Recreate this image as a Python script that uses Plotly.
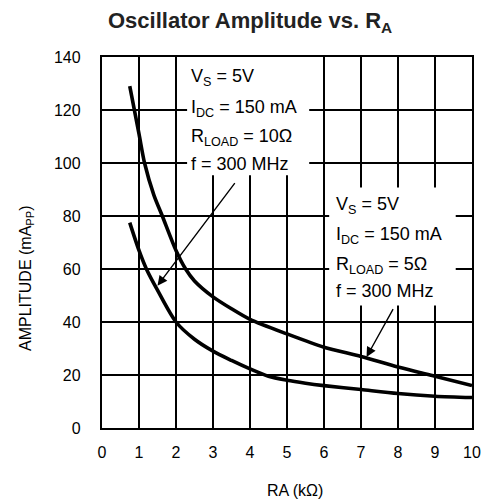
import plotly.graph_objects as go

# ---- data ----
ra_10ohm = [0.75, 1.0, 1.15, 1.4, 1.63, 2.0, 2.26, 2.5, 3.0, 3.5, 4.0, 5.0, 6.0, 7.0, 8.0, 9.0, 10.0]
amp_10ohm = [129, 111, 100, 88, 80, 67, 60, 55.5, 49.5, 45, 41, 35.5, 30.5, 27, 23, 19.5, 16]

ra_5ohm = [0.75, 1.0, 1.2, 1.5, 2.0, 2.5, 3.0, 3.5, 4.0, 4.5, 5.0, 5.5, 6.0, 7.0, 8.0, 9.0, 10.0]
amp_5ohm = [77.5, 67, 60, 52, 40, 33.5, 29, 25.5, 22.3, 19.5, 18, 16.9, 16, 14.5, 13, 12, 11.5]

x_ticks = list(range(0, 11))
y_ticks = list(range(0, 141, 20))

label_10ohm = ["V<sub>S</sub> = 5V", "I<sub>DC</sub> = 150 mA", "R<sub>LOAD</sub> = 10Ω", "f = 300 MHz"]
label_5ohm = ["V<sub>S</sub> = 5V", "I<sub>DC</sub> = 150 mA", "R<sub>LOAD</sub> = 5Ω", "f = 300 MHz"]

FONT = "Liberation Sans, Arial, Helvetica, sans-serif"

L, T, PW, PH = 102, 57, 370, 371


def px(xp):
    return (xp - L) / PW


def py(yp):
    return (T + PH - yp) / PH


fig = go.Figure()
fig.add_trace(go.Scatter(x=ra_10ohm, y=amp_10ohm, mode="lines",
                         line=dict(color="black", width=3.6, shape="spline", smoothing=0.8),
                         showlegend=False, hoverinfo="skip"))
fig.add_trace(go.Scatter(x=ra_5ohm, y=amp_5ohm, mode="lines",
                         line=dict(color="black", width=3.6, shape="spline", smoothing=0.8),
                         showlegend=False, hoverinfo="skip"))

# white boxes behind the condition labels (hide gridlines)
fig.add_shape(type="rect", xref="x", yref="y", x0=2.30, x1=5.6, y0=95.4, y1=140,
              fillcolor="white", line=dict(width=0), layer="between")
fig.add_shape(type="rect", xref="x", yref="y", x0=6.14, x1=9.56, y0=46.2, y1=90.8,
              fillcolor="white", line=dict(width=0), layer="between")

annotations = []
ys1 = [132.4, 120.7, 109.7, 99.6]
ys2 = [84.0, 72.6, 61.3, 51.8]
for txt, yy in zip(label_10ohm, ys1):
    annotations.append(dict(x=2.36, y=yy, xref="x", yref="y", text=txt, showarrow=False,
                            xanchor="left", yanchor="middle", font=dict(size=18, color="black", family=FONT)))
for txt, yy in zip(label_5ohm, ys2):
    annotations.append(dict(x=6.26, y=yy, xref="x", yref="y", text=txt, showarrow=False,
                            xanchor="left", yanchor="middle", font=dict(size=18, color="black", family=FONT)))

# arrows
annotations.append(dict(x=1.5, y=53.7, ax=3.62, ay=93.0, xref="x", yref="y", axref="x", ayref="y",
                        text="", showarrow=True, arrowhead=2, arrowsize=1.4, arrowwidth=1.4, arrowcolor="black"))
annotations.append(dict(x=7.15, y=26.8, ax=7.89, ay=45.4, xref="x", yref="y", axref="x", ayref="y",
                        text="", showarrow=True, arrowhead=2, arrowsize=1.4, arrowwidth=1.4, arrowcolor="black"))

# title and axis titles
annotations.append(dict(x=px(250), y=py(22), xref="paper", yref="paper",
                        text="<b>Oscillator Amplitude vs. R<sub>A</sub></b>", showarrow=False,
                        xanchor="center", yanchor="middle", font=dict(size=22, color="#222", family=FONT)))
annotations.append(dict(x=px(295), y=py(490), xref="paper", yref="paper",
                        text="RA (kΩ)", showarrow=False, xanchor="center", yanchor="middle",
                        font=dict(size=16, color="black", family=FONT)))
annotations.append(dict(x=px(26), y=py(278), xref="paper", yref="paper",
                        text="AMPLITUDE (mA<sub>PP</sub>)", showarrow=False, textangle=-90,
                        xanchor="center", yanchor="middle", font=dict(size=16, color="black", family=FONT)))

axis_common = dict(showgrid=True, gridcolor="black", gridwidth=1.5, showline=True, linecolor="black",
                   linewidth=2.2, mirror=True, zeroline=False, ticks="",
                   tickfont=dict(size=16, color="black", family=FONT))

fig.update_layout(
    width=495, height=503,
    margin=dict(l=L, r=495 - L - PW, t=T, b=503 - T - PH),
    paper_bgcolor="white", plot_bgcolor="white",
    xaxis=dict(range=[0, 10], tickvals=x_ticks, ticklabelstandoff=9, **axis_common),
    yaxis=dict(range=[0, 140], tickvals=y_ticks, ticklabelstandoff=16, **axis_common),
    annotations=annotations,
    showlegend=False,
)

fig.write_html("out.html", config={"displayModeBar": False, "staticPlot": True},
               post_script="document.body.style.margin='0';document.body.style.padding='0';document.body.style.overflow='hidden';")
